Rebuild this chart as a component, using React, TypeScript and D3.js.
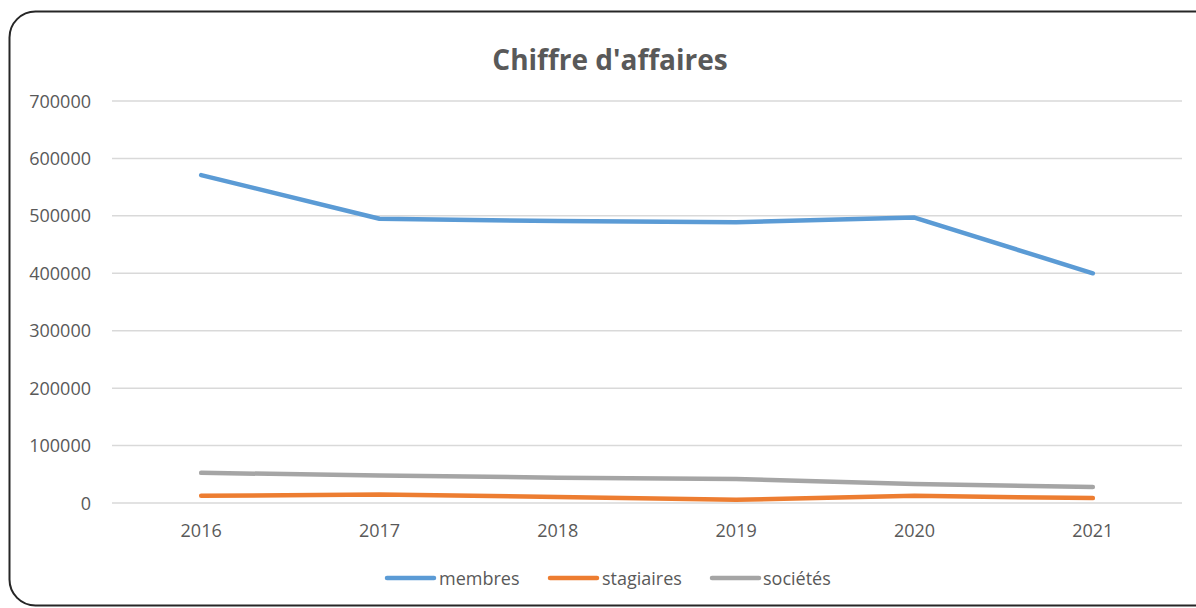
import React from "react";
import * as d3 from "d3";

const years = ["2016", "2017", "2018", "2019", "2020", "2021"];
const membres = [571000, 495000, 491000, 489000, 497000, 400000];
const stagiaires = [12500, 15000, 10500, 5500, 12500, 8500];
const societes = [52500, 48000, 44000, 42000, 33000, 28000];
const yTicks = [0, 100000, 200000, 300000, 400000, 500000, 600000, 700000];

const series = [
  { name: "membres", values: membres, color: "#5B9BD5" },
  { name: "stagiaires", values: stagiaires, color: "#ED7D31" },
  { name: "sociétés", values: societes, color: "#A5A5A5" },
];

export default function App() {
  const W = 1196, H = 608;
  const left = 112, right = 1182, top = 101, bottom = 503;
  const x = d3.scaleBand<string>().domain(years).range([left, right]);
  const y = d3.scaleLinear().domain([0, 700000]).range([bottom, top]);
  const line = d3
    .line<number>()
    .x((_, i) => (x(years[i]) as number) + x.bandwidth() / 2)
    .y((d) => y(d));
  const font = "'Open Sans', 'Noto Sans', sans-serif";
  const legendItems = [
    { x: 387, tx: 439 },
    { x: 550, tx: 602 },
    { x: 712, tx: 763 },
  ];
  return (
    <svg
      width={W}
      height={H}
      style={{ position: "absolute", left: 0, top: 0, background: "#fff" }}
      fontFamily={font}
    >
      <rect x={9.5} y={11.5} width={1210} height={594} rx={26} ry={26} fill="#fff" stroke="#262626" strokeWidth={2} />
      <text x={610} y={70} textAnchor="middle" fontSize={28} fontWeight="bold" fill="#595959">
        Chiffre d'affaires
      </text>
      {yTicks.map((t) => (
        <g key={t}>
          <line x1={left} x2={right} y1={y(t)} y2={y(t)} stroke="#D9D9D9" strokeWidth={1.5} />
          <text x={91} y={y(t) + 6.5} textAnchor="end" fontSize={18} fill="#595959">
            {t}
          </text>
        </g>
      ))}
      {years.map((yr) => (
        <text key={yr} x={(x(yr) as number) + x.bandwidth() / 2} y={537} textAnchor="middle" fontSize={18} fill="#595959">
          {yr}
        </text>
      ))}
      {series.map((s) => (
        <path key={s.name} d={line(s.values) || ""} fill="none" stroke={s.color} strokeWidth={4.5} strokeLinecap="round" strokeLinejoin="round" />
      ))}
      {series.map((s, i) => (
        <g key={s.name}>
          <line x1={legendItems[i].x} x2={legendItems[i].x + 47} y1={578} y2={578} stroke={s.color} strokeWidth={4.5} strokeLinecap="round" />
          <text x={legendItems[i].tx} y={584.5} fontSize={18} fill="#595959">
            {s.name}
          </text>
        </g>
      ))}
    </svg>
  );
}
